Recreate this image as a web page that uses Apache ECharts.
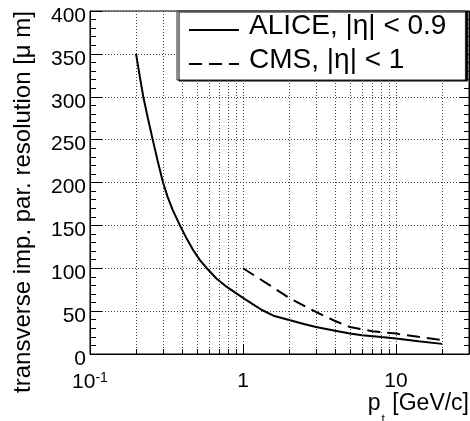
<!DOCTYPE html>
<html><head><meta charset="utf-8">
<script src="https://cdn.jsdelivr.net/npm/echarts@6/dist/echarts.min.js"></script>
<style>html,body{margin:0;padding:0;background:#fff}#c{width:470px;height:421px}</style>
</head><body><div id="c"></div>
<script>
// ALICE |eta|<0.9 : [pt (GeV/c), resolution (um)]
const aliceData = [[0.2,350],[0.211,325],[0.223,300],[0.239,275],[0.257,250],[0.277,225],[0.30,200],[0.322,183],[0.347,168],[0.387,150],[0.43,134],[0.473,121],[0.52,110],[0.58,100],[0.67,88],[0.78,78.5],[0.89,71.5],[1.0,65.5],[1.15,58.5],[1.33,51.3],[1.58,44.7],[2,39.6],[2.5,35],[3,31.5],[4,27],[5,23.8],[6,22],[8,19.8],[10,18.2],[14,15],[20,11.8]];
// CMS |eta|<1
const cmsData = [[1,100],[1.5,80],[2,65.5],[3,49],[4,38.5],[5,31.5],[6,28.8],[7,26.5],[10,23.8],[14,20],[20,16.3]];
const seriesNames = ['ALICE, |η| < 0.9', 'CMS, |η| < 1'];
const xMinorValues = [0.2,0.3,0.4,0.5,0.6,0.7,0.8,0.9,2,3,4,5,6,7,8,9,20];
const xMajorLabels = [[-1,'{b|10}{s|-1}'],[0,'1'],[1,'10']];
const yMin = 0, yMax = 400, yStep = 50;
const xMin = 0.1, xMax = 30;
const minorTickLen = 5.8; // in data units of y

const FONT = 'Liberation Sans';
const dotted = {type:[1,2], color:'#444', width:1};

const markData = [];
xMinorValues.forEach(v => {
  markData.push({xAxis: v, lineStyle: dotted});
  markData.push([{coord:[v, yMin], lineStyle:{type:'solid', color:'#000', width:1}},
                 {coord:[v, yMin + minorTickLen], lineStyle:{type:'solid', color:'#000', width:1}}]);
});

function xLabel(v){
  const l = Math.log10(v);
  for (const [k, s] of xMajorLabels) if (Math.abs(l - k) < 1e-6) return s;
  return '';
}

const yAxisCommon = {
  type:'value', min:yMin, max:yMax, interval:yStep,
  axisLine:{show:true, lineStyle:{color:'#000', width:1}},
  axisTick:{show:true, inside:true, length:12, lineStyle:{color:'#000'}},
  minorTick:{show:true, splitNumber:5, length:6, lineStyle:{color:'#000'}},
};

const option = {
  animation:false,
  backgroundColor:'#fff',
  grid:{left:90, top:11, right:1, bottom:67, outerBoundsMode:'none', containLabel:false,
        show:true, borderColor:'#000', borderWidth:1, backgroundColor:'transparent'},
  legend:{
    orient:'vertical', left:177, top:11,
    padding:[1,19,6,11], itemGap:6, itemWidth:50, itemHeight:14,
    backgroundColor:'#fff', borderColor:'#222', borderWidth:1,
    shadowColor:'#000', shadowOffsetX:2, shadowOffsetY:1, shadowBlur:0,
    itemStyle:{opacity:0},
    formatter: n => '{t|' + n + '}',
    textStyle:{fontFamily:FONT, fontSize:28, color:'#000',
      rich:{t:{fontFamily:FONT, fontSize:28, color:'#000', padding:[0,0,8,5]}}},
    data:seriesNames
  },
  xAxis:{
    type:'log', logBase:10, min:xMin, max:xMax,
    name:'{a|p}{sub|t}{a| [GeV/c]}', nameLocation:'end', nameGap:0,
    nameTextStyle:{align:'right', verticalAlign:'top', padding:[28,0,0,0],
      rich:{a:{fontFamily:FONT, fontSize:23, color:'#000'}, sub:{fontFamily:FONT, fontSize:12, color:'#000', verticalAlign:'bottom', padding:[32,1,0,1]}}},
    axisLine:{show:true, onZero:false, lineStyle:{color:'#000', width:1}},
    axisTick:{show:true, inside:true, length:10, lineStyle:{color:'#000'}},
    splitLine:{show:true, lineStyle:dotted},
    axisLabel:{margin:17, formatter:xLabel, color:'#000', fontFamily:FONT, fontSize:21,
      rich:{b:{fontFamily:FONT, fontSize:21, color:'#000'}, s:{fontFamily:FONT, fontSize:14, color:'#000', verticalAlign:'top', padding:[0,0,8,0]}}}
  },
  yAxis:[
    Object.assign({}, yAxisCommon, {
      position:'left',
      name:'transverse imp. par. resolution [μ m]', nameLocation:'end', nameRotate:90, nameGap:0,
      nameTextStyle:{fontFamily:FONT, fontSize:24, color:'#000', align:'right', verticalAlign:'bottom', padding:[0,0,55,0]},
      splitLine:{show:true, lineStyle:dotted},
      axisLabel:{show:true, margin:4, color:'#000', fontFamily:FONT, fontSize:21, verticalAlign:'top', lineHeight:10}
    }),
    Object.assign({}, yAxisCommon, {
      position:'right',
      axisTick:{show:true, inside:true, length:10, lineStyle:{color:'#000'}},
      minorTick:{show:true, splitNumber:5, length:5, lineStyle:{color:'#000'}},
      splitLine:{show:false}, axisLabel:{show:false}
    })
  ],
  series:[
    {name:seriesNames[0], type:'line', data:aliceData, symbol:'none', smooth:false,
     lineStyle:{color:'#000', width:2}, itemStyle:{color:'#000'}, z:5,
     markLine:{silent:true, symbol:['none','none'], label:{show:false}, animation:false, data:markData, z:1}},
    {name:seriesNames[1], type:'line', data:cmsData, symbol:'none', smooth:false,
     lineStyle:{color:'#000', width:2, type:[13,7]}, itemStyle:{color:'#000'}, z:5}
  ]
};
const chart = echarts.init(document.getElementById('c'), null, {renderer:'canvas'});
chart.setOption(option);
</script></body></html>
